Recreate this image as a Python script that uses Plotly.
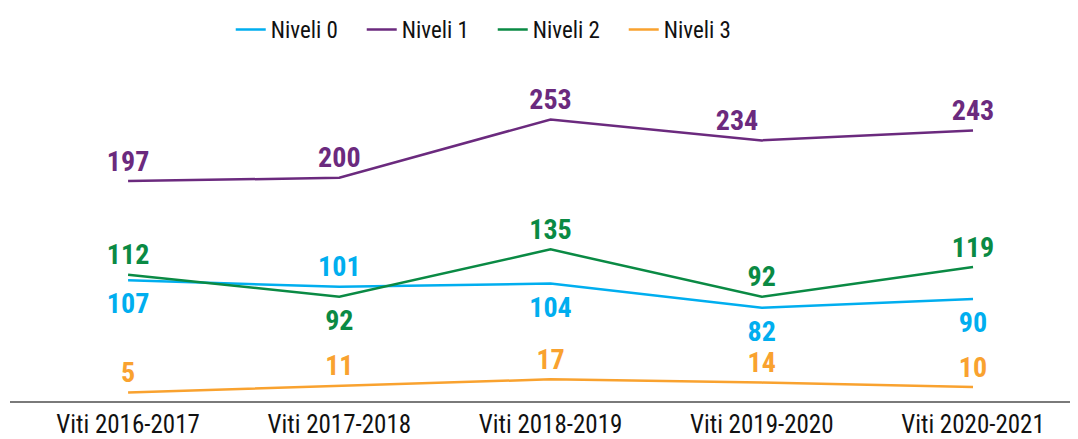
import plotly.graph_objects as go

categories = ["Viti 2016-2017", "Viti 2017-2018", "Viti 2018-2019", "Viti 2019-2020", "Viti 2020-2021"]
niveli0 = [107, 101, 104, 82, 90]
niveli1 = [197, 200, 253, 234, 243]
niveli2 = [112, 92, 135, 92, 119]
niveli3 = [5, 11, 17, 14, 10]

series_names = ["Niveli 0", "Niveli 1", "Niveli 2", "Niveli 3"]
series_values = [niveli0, niveli1, niveli2, niveli3]
colors = ["#00AEEF", "#6B2A7E", "#0A8A44", "#F9A22F"]
text_positions = [
    ["bottom center", "top center", "bottom center", "bottom center", "bottom center"],
    ["top center", "top center", "top center", "top left", "top center"],
    ["top center", "bottom center", "top center", "top center", "top center"],
    ["top center", "top center", "top center", "top center", "top center"],
]

FONT = "Liberation Sans Narrow, Roboto Condensed, Arial Narrow, Roboto, sans-serif"

fig = go.Figure()
x_idx = list(range(len(categories)))
for name, vals, col, tp in zip(series_names, series_values, colors, text_positions):
    fig.add_trace(go.Scatter(
        x=x_idx, y=vals, name=name, mode="lines",
        line=dict(color=col, width=2.5),
    ))
for name, vals, col, tp in zip(series_names, series_values, colors, text_positions):
    sizes = [18 if p.startswith("bottom") else 4 for p in tp]
    fig.add_trace(go.Scatter(
        x=x_idx, y=vals, name=name, mode="markers+text", showlegend=False,
        marker=dict(size=sizes, color=col, opacity=0),
        text=[str(v) for v in vals],
        textposition=tp,
        textfont=dict(family=FONT, size=28, color=col, weight="bold"),
        cliponaxis=False, hoverinfo="skip",
    ))

# page body has an 8px margin, so the figure is 8px smaller than the window
fig.update_layout(
    width=1070, height=431,
    margin=dict(l=2, r=0, t=52, b=36),
    paper_bgcolor="white", plot_bgcolor="white",
    font=dict(family=FONT, color="#111111"),
    showlegend=True,
    legend=dict(orientation="h", x=0.452, xanchor="center", y=1.0, yanchor="top",
                yref="container", font=dict(size=23, family=FONT, color="#111111"),
                entrywidth=86, entrywidthmode="pixels"),
    xaxis=dict(range=[-0.559, 4.497], tickmode="array",
               tickvals=x_idx, ticktext=categories,
               showgrid=False, zeroline=False, showline=True, linecolor="#7A7A7A",
               linewidth=2, ticks="", tickfont=dict(size=25, family=FONT, color="#111111")),
    yaxis=dict(range=[-2.7, 307], visible=False, showgrid=False, zeroline=False),
)

fig.write_html("out.html")
